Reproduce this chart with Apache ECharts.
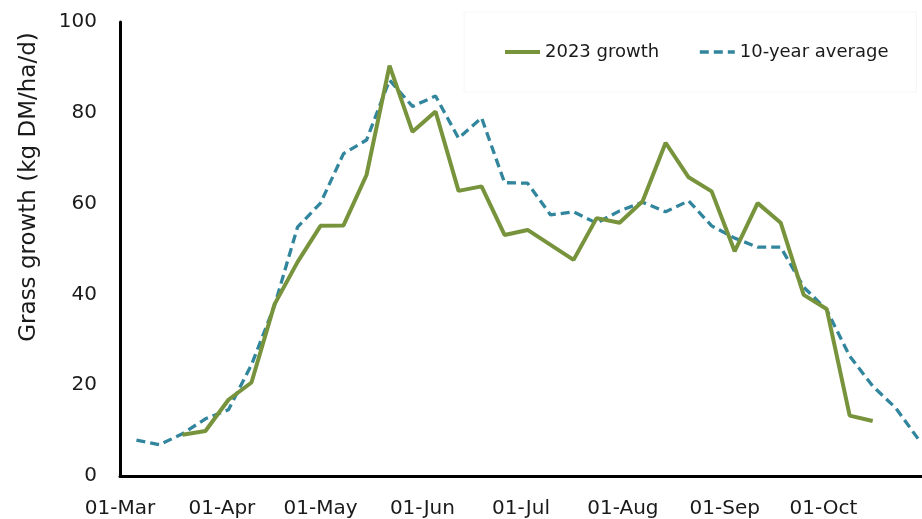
<!DOCTYPE html>
<html>
<head>
<meta charset="utf-8">
<script src="https://cdn.jsdelivr.net/npm/echarts@6/dist/echarts.min.js"></script>
<style>
html,body{margin:0;padding:0;background:#fff;}
#c{width:922px;height:519px;}
</style>
</head>
<body>
<div id="c"></div>
<script>
// weekly dates (2023), first week ending 06-Mar
const weekDates = [
  '2023-03-06','2023-03-13','2023-03-20','2023-03-27','2023-04-03','2023-04-10','2023-04-17','2023-04-24',
  '2023-05-01','2023-05-08','2023-05-15','2023-05-22','2023-05-29','2023-06-05','2023-06-12','2023-06-19',
  '2023-06-26','2023-07-03','2023-07-10','2023-07-17','2023-07-24','2023-07-31','2023-08-07','2023-08-14',
  '2023-08-21','2023-08-28','2023-09-04','2023-09-11','2023-09-18','2023-09-25','2023-10-02','2023-10-09',
  '2023-10-16','2023-10-23','2023-10-30'
];
const growth2023 = [
  null, null, 9.1, 9.9, 16.8, 20.6, 37.8, 47.1, 55.1, 55.2, 66.3, 90.4, 75.8, 80.3, 62.8, 63.8,
  53.1, 54.2, 50.9, 47.6, 56.8, 55.8, 60.5, 73.4, 65.8, 62.7, 49.5, 60.1, 55.8, 39.9, 36.8, 13.3, 12.1
];
const avg10yr = [
  7.9, 6.9, 9.3, 12.6, 14.6, 24.5, 37.5, 54.8, 60.1, 71.0, 74.0, 87.2, 81.4, 83.7, 74.4, 78.9,
  64.6, 64.5, 57.5, 58.2, 55.7, 58.4, 60.3, 58.2, 60.6, 55.1, 52.4, 50.4, 50.4, 41.6, 36.6, 26.4,
  19.8, 15.0, 8.0
];
const monthTicks = ['2023-03-01','2023-04-01','2023-05-01','2023-06-01','2023-07-01','2023-08-01','2023-09-01','2023-10-01'];
const tickLabels = ['01-Mar','01-Apr','01-May','01-Jun','01-Jul','01-Aug','01-Sep','01-Oct'];
const seriesNames = ['2023 growth', '10-year average'];
const yTitle = 'Grass growth (kg DM/ha/d)';

function toTime(s){ const p = s.split('-').map(Number); return new Date(p[0], p[1]-1, p[2]).getTime(); }
const tickTimes = monthTicks.map(toTime);
const DAY = 86400000;

const FONT = 'DejaVu Sans';
const TXT = '#1a1a1a';
const GREEN = '#77933C';
const TEAL = '#31859C';

const chart = echarts.init(document.getElementById('c'), null, {renderer:'canvas'});
chart.setOption({
  animation: false,
  backgroundColor: '#ffffff',
  grid: { left: 120, right: 0, top: 22, bottom: 42.5, containLabel: false },
  legend: {
    left: 464, top: 12,
    padding: [31, 28, 31, 39],
    borderColor: '#f6f6f6', borderWidth: 1,
    itemWidth: 35, itemHeight: 14, itemGap: 39,
    itemStyle: { opacity: 0 },
    textStyle: { fontFamily: FONT, fontSize: 18, color: TXT },
    data: [
      { name: seriesNames[0], lineStyle: { width: 4 } },
      { name: seriesNames[1], lineStyle: { width: 3.3 } }
    ]
  },
  xAxis: {
    type: 'time',
    min: toTime('2023-03-01'),
    max: toTime('2023-10-31'),
    splitNumber: 8,
    minInterval: 28 * DAY,
    maxInterval: 31 * DAY,
    axisLine: { show: true, lineStyle: { color: '#000', width: 3 } },
    axisTick: { show: false },
    splitLine: { show: false },
    axisLabel: {
      fontFamily: FONT, fontSize: 20, color: TXT, margin: 23,
      showMaxLabel: false,
      formatter: function (v) {
        const i = tickTimes.indexOf(v);
        return i >= 0 ? tickLabels[i] : '';
      }
    }
  },
  yAxis: {
    type: 'value', min: 0, max: 100, interval: 20,
    axisLine: { show: true, lineStyle: { color: '#000', width: 3 } },
    axisTick: { show: false },
    splitLine: { show: false },
    axisLabel: { fontFamily: FONT, fontSize: 20, color: TXT, margin: 23 }
  },
  graphic: [{
    type: 'text', x: 29, y: 187, rotation: Math.PI / 2,
    style: { text: yTitle, font: '23px "DejaVu Sans"', fill: TXT, textAlign: 'center', textVerticalAlign: 'middle' }
  }],
  series: [
    {
      name: seriesNames[0], type: 'line', showSymbol: false, symbol: 'none',
      data: weekDates.slice(0, growth2023.length).map((d, i) => [toTime(d), growth2023[i]]),
      lineStyle: { color: GREEN, width: 4 },
      itemStyle: { color: GREEN },
      z: 3
    },
    {
      name: seriesNames[1], type: 'line', showSymbol: false, symbol: 'none',
      data: weekDates.map((d, i) => [toTime(d), avg10yr[i]]),
      lineStyle: { color: TEAL, width: 3.3, type: [9, 5] },
      itemStyle: { color: TEAL },
      z: 2
    }
  ]
});
</script>
</body>
</html>
